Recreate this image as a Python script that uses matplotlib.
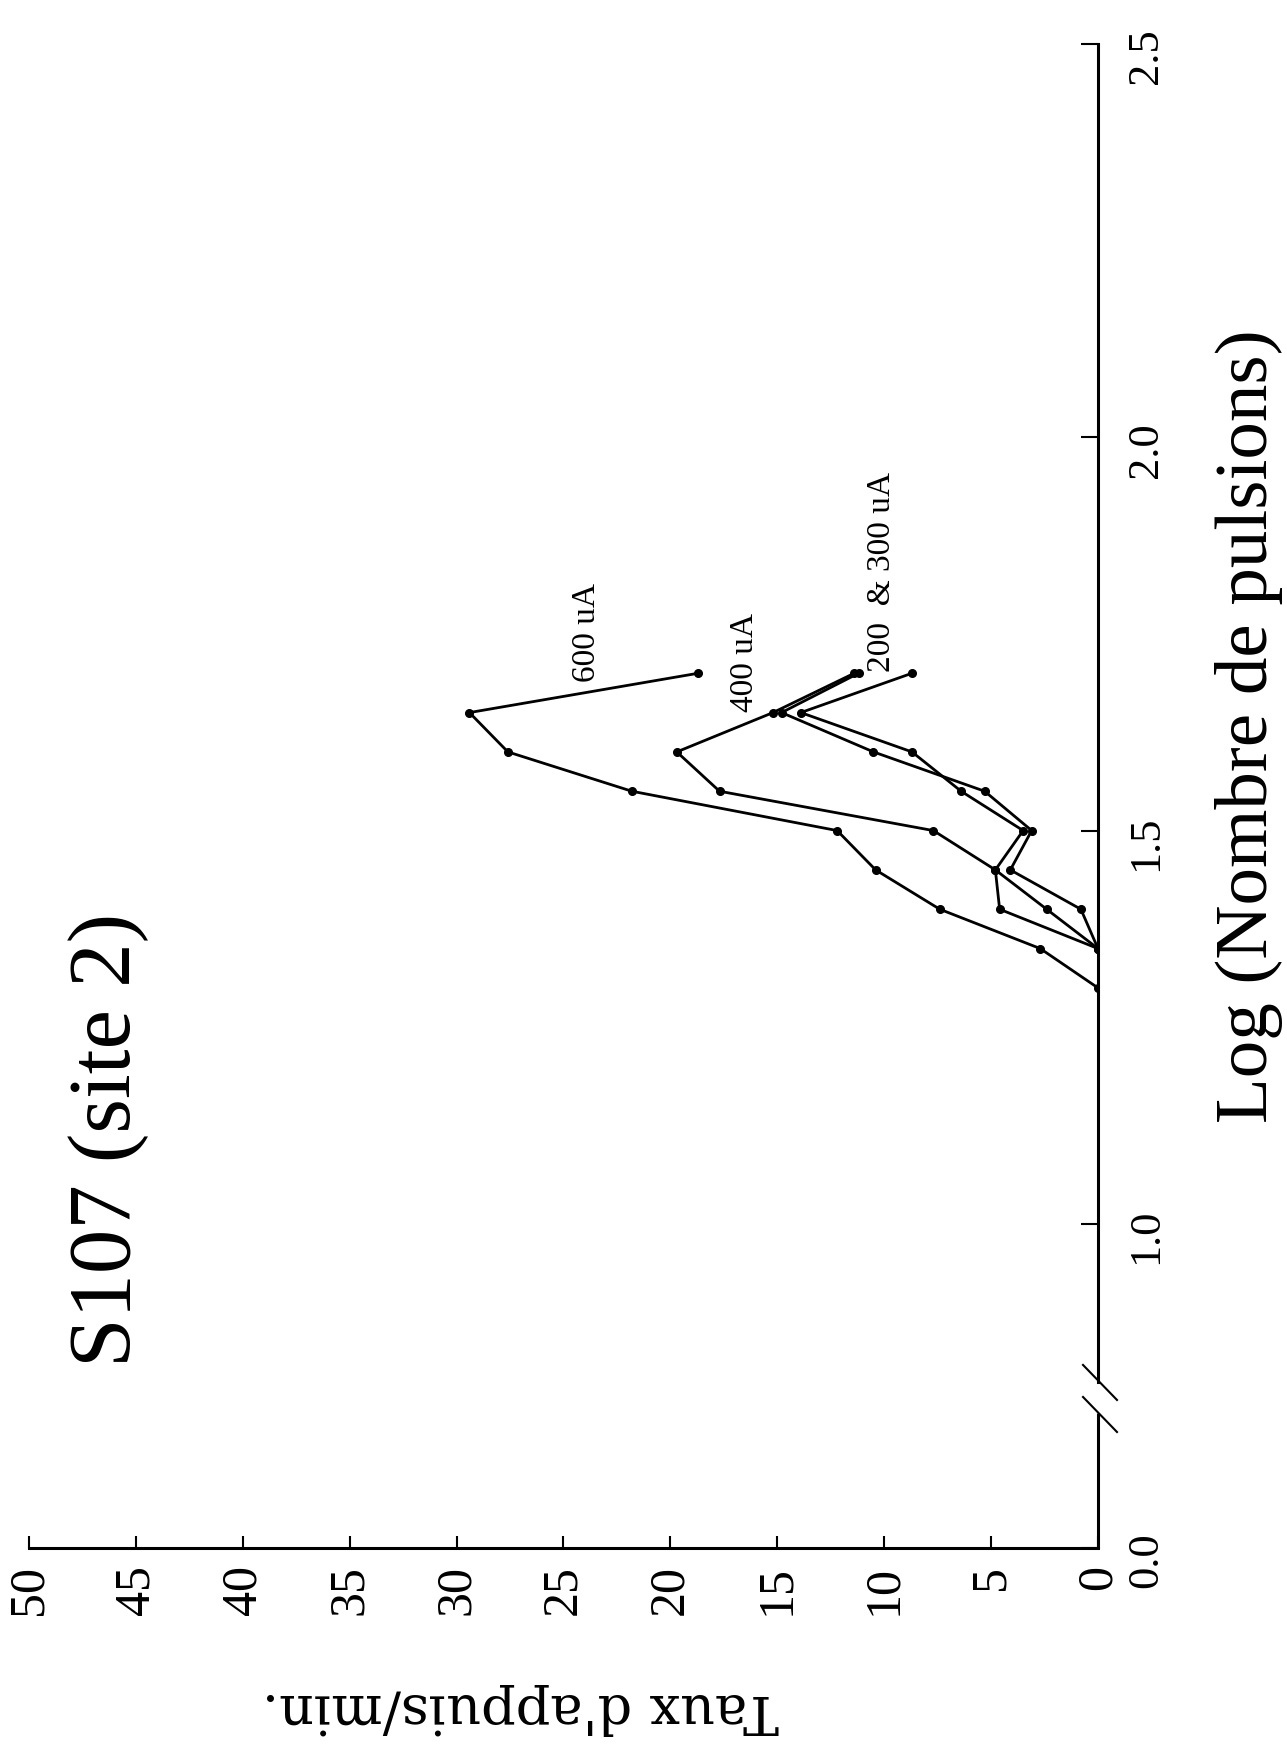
#! /usr/bin/python3

import matplotlib
matplotlib.use('Agg')
import matplotlib.pyplot as plt

plt.rcParams['font.family'] = ['Liberation Serif', 'DejaVu Serif']

# log(number of pulses) for each curve
log_600 = [1.30, 1.35, 1.40, 1.45, 1.50, 1.55, 1.60, 1.65, 1.70]
log_400 = [1.35, 1.40, 1.45, 1.50, 1.55, 1.60, 1.65, 1.70]
log_300 = [1.35, 1.40, 1.45, 1.50, 1.55, 1.60, 1.65, 1.70]
log_200 = [1.35, 1.40, 1.45, 1.50, 1.55, 1.60, 1.65, 1.70]

# lever press rate (per min.)
rate_600 = [0.0, 2.7, 7.4, 10.4, 12.2, 21.8, 27.6, 29.4, 18.7]
rate_400 = [0.0, 4.6, 4.8, 7.7, 17.7, 19.7, 15.2, 11.4]
rate_300 = [0.0, 0.8, 4.1, 3.1, 5.3, 10.5, 14.8, 11.2]
rate_200 = [0.0, 2.4, 4.8, 3.5, 6.4, 8.7, 13.9, 8.7]

rate_ticks = [0, 5, 10, 15, 20, 25, 30, 35, 40, 45, 50]
rate_tick_labels = ['0', '5', '10', '15', '20', '25', '30', '35', '40', '45', '50']
log_ticks = [0.588, 1.0, 1.5, 2.0, 2.5]
log_tick_labels = ['0.0', '1.0', '1.5', '2.0', '2.5']

fig = plt.figure(figsize=(12.87, 17.44), dpi=100)
# the page is printed turned a quarter turn: rate runs right to left, log runs up
ax = fig.add_axes([0.02253, 0.1124, 0.8306, 0.8624])

line_kw = dict(color='black', lw=2.0, marker='o', markersize=5.5)
ax.plot(rate_600, log_600, **line_kw)
ax.plot(rate_400, log_400, **line_kw)
ax.plot(rate_300, log_300, **line_kw)
ax.plot(rate_200, log_200, **line_kw)

ax.set_xlim(50, 0)
ax.set_ylim(0.588, 2.5)

ax.spines['top'].set_visible(False)
ax.spines['left'].set_visible(False)
ax.spines['bottom'].set_linewidth(2.2)
ax.spines['right'].set_linewidth(2.2)

# axis break on the log axis
brk_hi, brk_lo = 0.799, 0.760
ax.spines['right'].set_bounds(brk_hi, 2.5)
ax.plot([0, 0], [0.588, brk_lo], color='black', lw=2.2, clip_on=False,
        solid_capstyle='butt')
for y0 in (0.1217, 0.1004):
    ax.plot([0.986, 1.0178], [y0, y0 - 0.0233], color='black', lw=1.5,
            transform=ax.transAxes, clip_on=False)

ax.set_xticks(rate_ticks)
ax.set_xticklabels(rate_tick_labels)
ax.xaxis.set_ticks_position('bottom')
ax.tick_params(axis='x', direction='in', length=9, width=1.5, pad=12,
               labelsize=36, labelrotation=90)

ax.yaxis.set_ticks_position('right')
ax.set_yticks(log_ticks)
ax.set_yticklabels(log_tick_labels)
ax.tick_params(axis='y', direction='in', length=12, width=1.5, pad=20,
               labelsize=32, labelrotation=90, right=True, labelright=True,
               left=False, labelleft=False)

# curve labels
ax.text(23.9, 1.752, '600 uA', rotation=90, fontsize=24, ha='center', va='center')
ax.text(16.5, 1.714, '400 uA', rotation=90, fontsize=24, ha='center', va='center')
ax.text(10.1, 1.829, '200  & 300 uA', rotation=90, fontsize=24, ha='center', va='center')

fig.text(0.084, 0.3463, 'S107 (site 2)', rotation=90, fontsize=64,
         ha='center', va='center')
fig.text(0.9705, 0.5837, 'Log (Nombre de pulsions)', rotation=90, fontsize=54,
         ha='center', va='center')
fig.text(0.404, 0.0201, "Taux d'appuis/min.", rotation=180, fontsize=39,
         family=['DejaVu Serif'], ha='center', va='center')

fig.savefig('out.png', dpi=100)
